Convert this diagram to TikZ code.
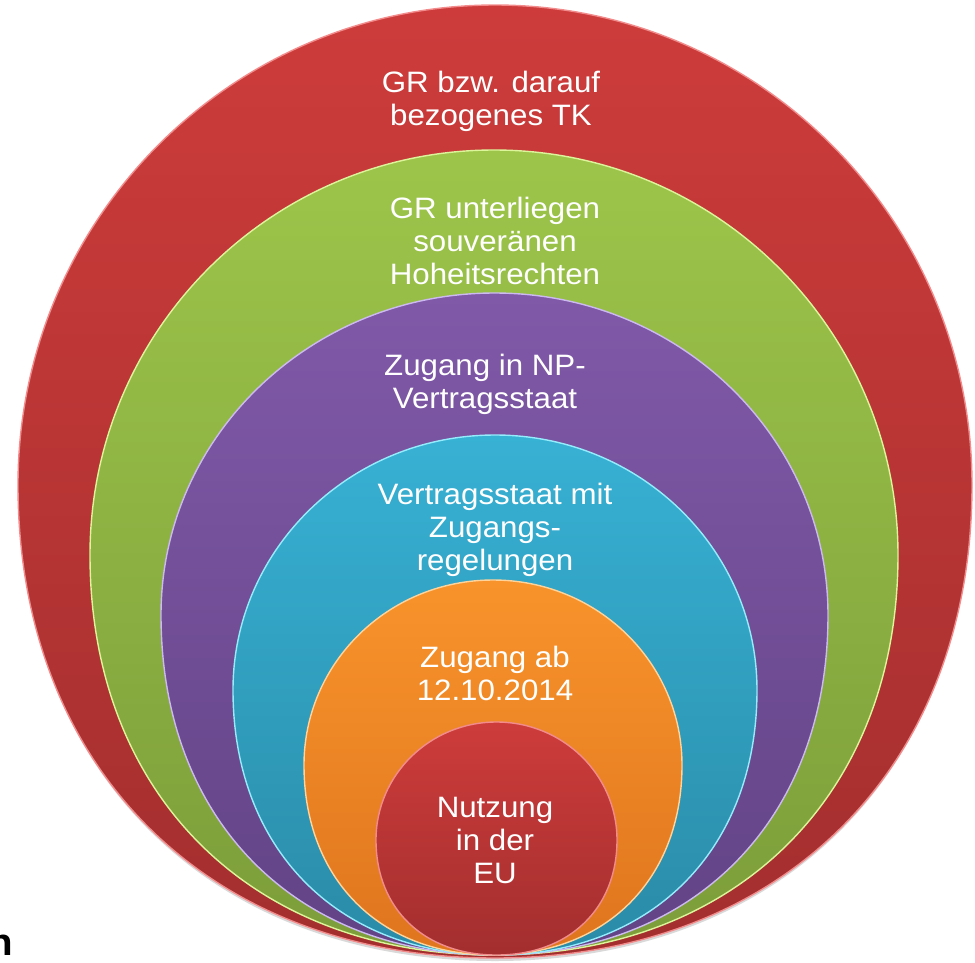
\documentclass[tikz,border=0pt]{standalone}
\usepackage{fontspec}
\setmainfont[FakeStretch=1.06]{Liberation Sans}
\usepackage{tikz}

% egg shaped ring: centre x, y of the widest line, x radius, upper y radius, lower y radius
\newcommand{\eggpath}[5]{({#1-#3},{#2}) .. controls ({#1-#3},{#2-0.5523*#4}) and ({#1-0.5523*#3},{#2-#4}) .. ({#1},{#2-#4})
	.. controls ({#1+0.5523*#3},{#2-#4}) and ({#1+#3},{#2-0.5523*#4}) .. ({#1+#3},{#2})
	.. controls ({#1+#3},{#2+0.6*#5}) and ({#1+0.6*#3},{#2+#5}) .. ({#1},{#2+#5})
	.. controls ({#1-0.6*#3},{#2+#5}) and ({#1-#3},{#2+0.6*#5}) .. ({#1-#3},{#2}) -- cycle}

\begin{document}
\begin{tikzpicture}
		[x=1pt,y=-1pt,line cap=round,
		%Styles
		ring/.style 2 args={top color=#1top,bottom color=#1bot,draw=#2,line width=1.4pt},
		ring text/.style={text=white,align=center,inner sep=0pt,font=\fontsize{29.5}{33}\selectfont},
		cut text/.style={text=black,inner sep=0pt,font=\bfseries\fontsize{38}{40}\selectfont}
		]
		
		%Colors
		\definecolor{redtop}{HTML}{CD3C3B}	\definecolor{redbot}{HTML}{A32E2E}	\definecolor{redrim}{HTML}{F28C8C}
		\definecolor{greentop}{HTML}{9DC54A}	\definecolor{greenbot}{HTML}{7C9D3A}	\definecolor{greenrim}{HTML}{DDF59A}
		\definecolor{purpletop}{HTML}{8059A8}	\definecolor{purplebot}{HTML}{624385}	\definecolor{purplerim}{HTML}{CDB9F2}
		\definecolor{cyantop}{HTML}{37B1D4}	\definecolor{cyanbot}{HTML}{2A8BA7}	\definecolor{cyanrim}{HTML}{95ECFC}
		\definecolor{orangetop}{HTML}{F8932B}	\definecolor{orangebot}{HTML}{DF751E}	\definecolor{orangerim}{HTML}{FFD39A}
		
		\useasboundingbox (0,0) rectangle (975,962);
		
		%The graphic
		\fill[black,opacity=.15] \eggpath{495}{488}{476}{480}{473};
		\path[ring={red}{redrim}] \eggpath{495}{485}{477}{480}{473};
		\path[ring={green}{greenrim}] \eggpath{494}{555}{404}{405}{400};
		\path[ring={purple}{purplerim}] \eggpath{494.5}{615}{333.5}{322}{340};
		\path[ring={cyan}{cyanrim}] \eggpath{495}{690}{262}{255}{265};
		\path[ring={orange}{orangerim}] \eggpath{493}{765}{189}{185}{190};
		\path[ring={red}{redrim}] \eggpath{496.5}{840}{120.5}{118}{115};
		
		\node[ring text] (gr text) at (491,101.5) {GR bzw. darauf\\bezogenes TK};
		\node[ring text] (sovereign text) at (495,241) {GR unterliegen\\souveränen\\Hoheitsrechten};
		\node[ring text] (np text) at (485,384) {Zugang in NP-\\Vertragsstaat};
		\node[ring text] (rules text) at (495,530) {Vertragsstaat mit\\Zugangs-\\regelungen};
		\node[ring text] (date text) at (495,673) {Zugang ab\\12.10.2014};
		\node[ring text] (eu text) at (495,840) {Nutzung\\in der\\EU};
		
		\node[cut text,anchor=base east] (cut) at (13,955) {n};
	\end{tikzpicture}
\end{document}
